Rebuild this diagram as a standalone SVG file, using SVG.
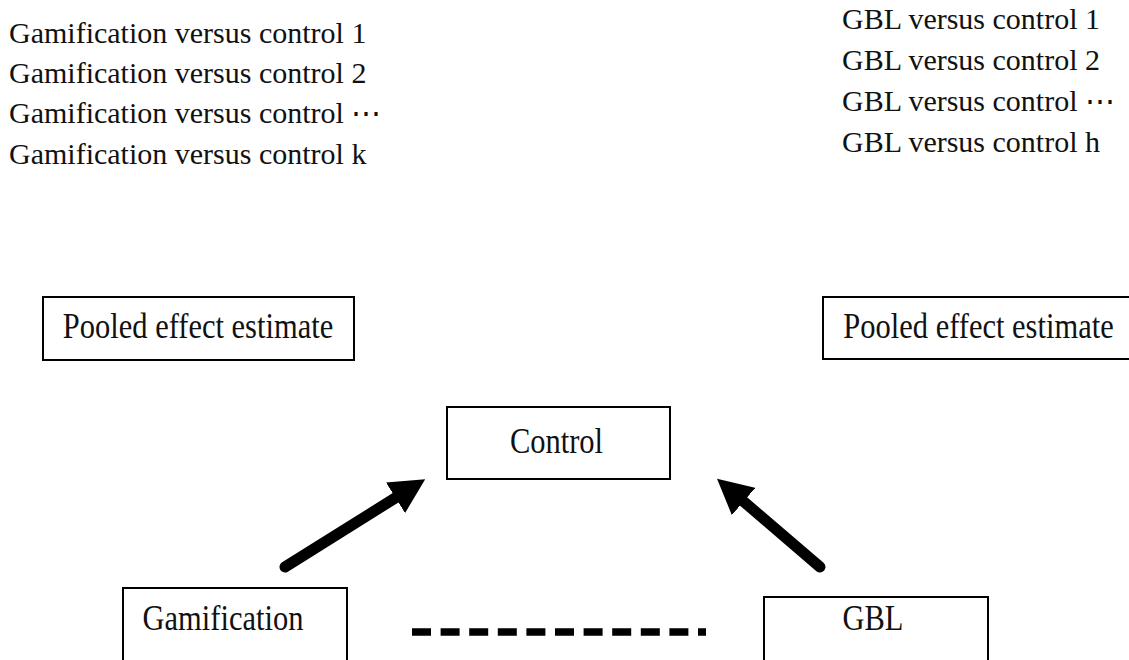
<svg xmlns="http://www.w3.org/2000/svg" width="1129" height="660" viewBox="0 0 1129 660">
<style>
.lst{font-size:30px;}
.lbl{font-size:30.5px;text-anchor:middle;}
.box{fill:#fff;stroke:#000;stroke-width:2;}
.arr{stroke:#000;stroke-width:11;fill:none;stroke-linecap:round;marker-end:url(#head);}
.dash{stroke:#000;stroke-width:7.5;fill:none;stroke-dasharray:19 9.6;}
</style>
<defs>
<marker id="head" markerUnits="userSpaceOnUse" viewBox="0 0 35 36" markerWidth="35" markerHeight="36" refX="10" refY="18" orient="auto">
<path d="M0,0 L35,18 L0,36 z" fill="#000"/>
</marker>
</defs>
<rect width="1129" height="660" fill="#fff"/>
<g style="font-family:'Liberation Serif','Times New Roman','DejaVu Serif',serif" fill="#111">
<g id="gam-list">
<text class="lst" x="9" y="43">Gamification versus control 1</text>
<text class="lst" x="9" y="83">Gamification versus control 2</text>
<text class="lst" x="9" y="123">Gamification versus control ⋯</text>
<text class="lst" x="9" y="164">Gamification versus control k</text>
</g>
<g id="gbl-list">
<text class="lst" x="842" y="29">GBL versus control 1</text>
<text class="lst" x="842" y="70">GBL versus control 2</text>
<text class="lst" x="842" y="111">GBL versus control ⋯</text>
<text class="lst" x="842" y="152">GBL versus control h</text>
</g>
<g id="pooled-left">
<rect class="box" x="43" y="297" width="311" height="63"/>
<text class="lbl" transform="translate(198,338) scale(1,1.15)">Pooled effect estimate</text>
</g>
<g id="pooled-right">
<rect class="box" x="823" y="297" width="330" height="62"/>
<text class="lbl" transform="translate(978.5,338) scale(1,1.15)">Pooled effect estimate</text>
</g>
<g id="control">
<rect class="box" x="447" y="407" width="223" height="72"/>
<text class="lbl" transform="translate(556.5,453) scale(1,1.15)">Control</text>
</g>
<g id="gamification">
<rect class="box" x="123" y="588" width="224" height="100"/>
<text class="lbl" transform="translate(223,630) scale(1,1.15)">Gamification</text>
</g>
<g id="gbl">
<rect class="box" x="764" y="597" width="224" height="100"/>
<text class="lbl" transform="translate(873,630) scale(1,1.15)">GBL</text>
</g>
</g>
<g id="connectors">
<line class="arr" x1="285" y1="567" x2="404" y2="492.5"/>
<line class="arr" x1="820" y1="567" x2="736" y2="495"/>
<line class="dash" x1="412" y1="632" x2="706" y2="632"/>
</g>
</svg>
